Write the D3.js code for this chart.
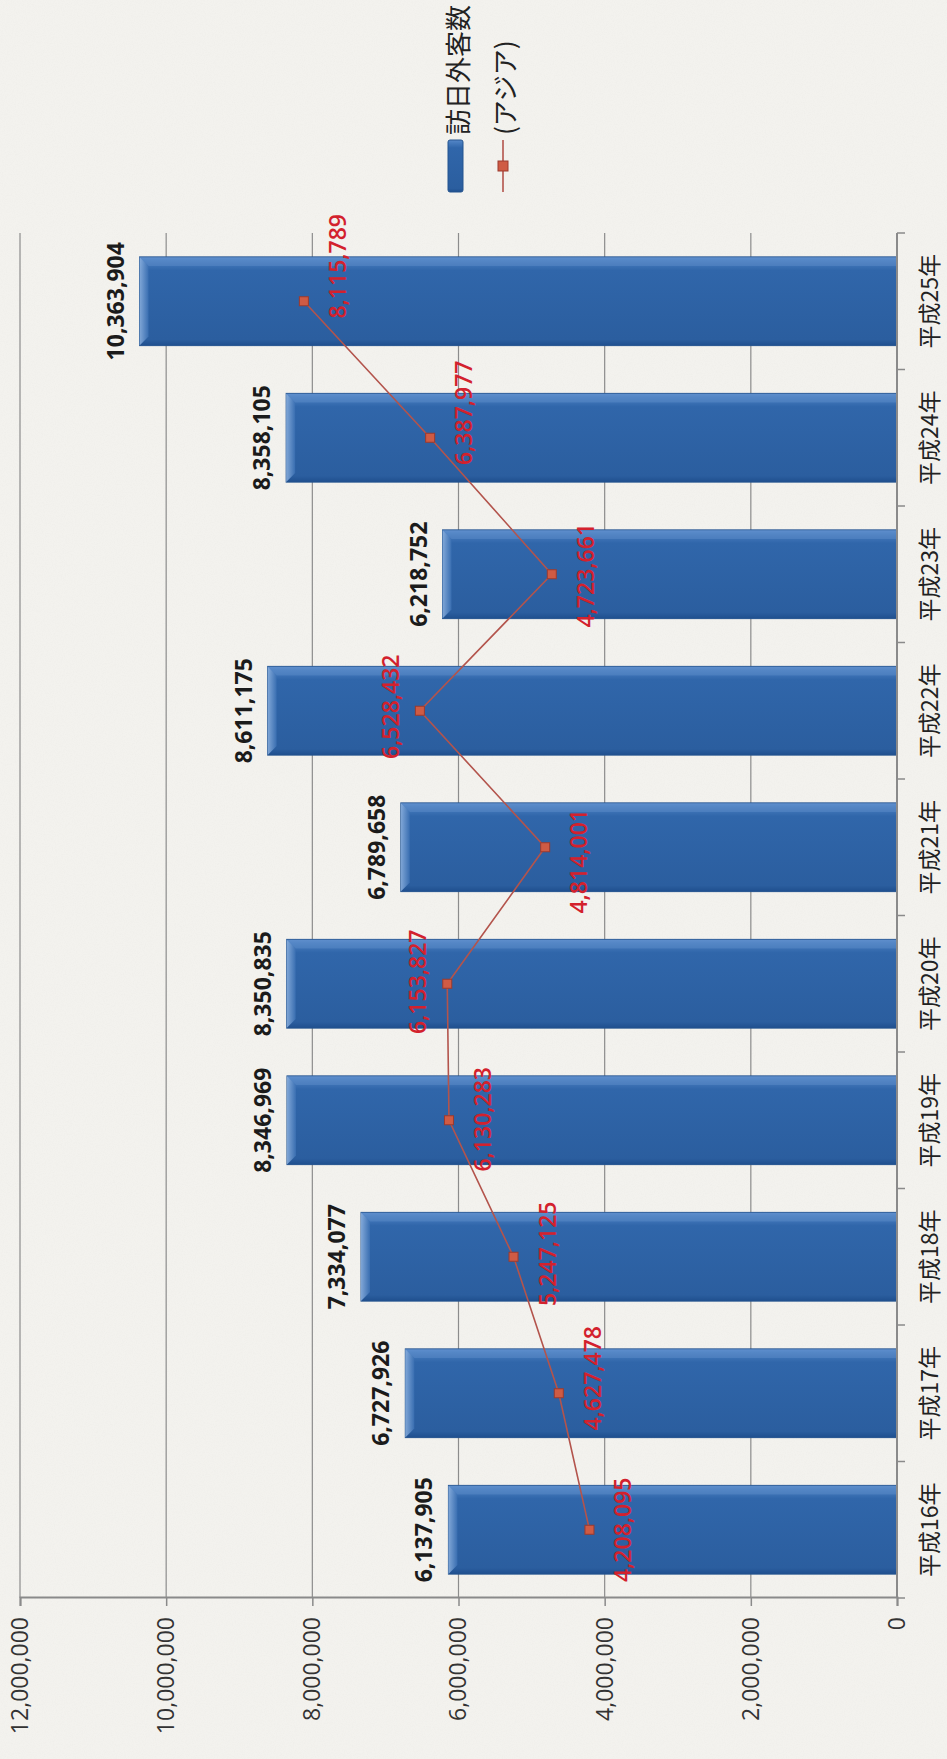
<!DOCTYPE html>
<html>
<head>
<meta charset="UTF-8" />
<title>訪日外客数</title>
<style>
  body { margin: 0; background: #f3f2ee; }
  svg { display: block; }
  .grid line { stroke: #8c8c8c; stroke-width: 1.2px; }
  .axis-line { stroke: #8a8a8a; stroke-width: 2px; }
  .tick-mark { stroke: #8a8a8a; stroke-width: 1.5px; }
  .val-label { font-family: "Open Sans", sans-serif; font-size: 23px; fill: #333; }
  .cat-label { font-family: "Noto Sans CJK JP", sans-serif; font-size: 23px; fill: #222; }
  .bar-label { font-family: "Open Sans", sans-serif; font-size: 23px; font-weight: bold; fill: #1b1b1b; }
  .asia-label { font-family: "Open Sans", sans-serif; font-size: 23px; font-weight: 600; fill: #d3212d; }
  .legend-text { font-family: "Noto Sans CJK JP", sans-serif; font-size: 26px; fill: #222; }
</style>
<script src="https://d3js.org/d3.v7.min.js"></script>
</head>
<body>
<div id="chart"></div>
<script>
// ---- data ----
var categories = ["平成16年", "平成17年", "平成18年", "平成19年", "平成20年",
                  "平成21年", "平成22年", "平成23年", "平成24年", "平成25年"];
var visitors = [6137905, 6727926, 7334077, 8346969, 8350835,
                6789658, 8611175, 6218752, 8358105, 10363904];
var asia = [4208095, 4627478, 5247125, 6130283, 6153827,
            4814001, 6528432, 4723661, 6387977, 8115789];
var valueTicks = [0, 2000000, 4000000, 6000000, 8000000, 10000000, 12000000];
var seriesNames = ["訪日外客数", "(アジア)"];

// where each red label sits relative to its point (label placement only)
var asiaLabelSide = ["below", "below", "below", "below", "above",
                     "below", "above", "below", "below", "below"];
var asiaLabelShift = [0, 15, 3, 1, 2, -14, 4, -1, 25, 35];

// ---- layout ----
// the chart is drawn landscape and then turned 90deg counter-clockwise
var pageW = 947, pageH = 1759;
var plotLeft = 161, plotRight = 1526, plotTop = 20, plotBottom = 897;

var svg = d3.select("#chart").append("svg")
    .attr("width", pageW)
    .attr("height", pageH);

var defs = svg.append("defs");

// paper texture
var paper = defs.append("filter").attr("id", "paper")
    .attr("x", 0).attr("y", 0).attr("width", "100%").attr("height", "100%");
paper.append("feTurbulence").attr("type", "fractalNoise")
    .attr("baseFrequency", 0.9).attr("numOctaves", 2).attr("seed", 4);
paper.append("feColorMatrix").attr("type", "matrix")
    .attr("values", "0 0 0 0 0.55  0 0 0 0 0.54  0 0 0 0 0.5  0 0 0 -1.2 0.75");

svg.append("rect").attr("width", pageW).attr("height", pageH).attr("fill", "#f3f2ee");
svg.append("rect").attr("width", pageW).attr("height", pageH)
    .attr("filter", "url(#paper)").attr("opacity", 0.1);

// bar gradients (x axis of gradient = across the bar thickness)
var body = defs.append("linearGradient").attr("id", "barBody")
    .attr("x1", 0).attr("y1", 0).attr("x2", 1).attr("y2", 0);
body.append("stop").attr("offset", "0%").attr("stop-color", "#1f4f8e");
body.append("stop").attr("offset", "7%").attr("stop-color", "#2b5e9f");
body.append("stop").attr("offset", "85%").attr("stop-color", "#3066aa");
body.append("stop").attr("offset", "96%").attr("stop-color", "#4a7ec0");
body.append("stop").attr("offset", "100%").attr("stop-color", "#5a8acb");

var cap = defs.append("linearGradient").attr("id", "barCap")
    .attr("x1", 0).attr("y1", 0).attr("x2", 0).attr("y2", 1);
cap.append("stop").attr("offset", "0%").attr("stop-color", "#8fb3e0");
cap.append("stop").attr("offset", "100%").attr("stop-color", "#3b70b3");

var g = svg.append("g")
    .attr("transform", "translate(0," + pageH + ") rotate(-90)");

var x = d3.scaleBand()
    .domain(categories)
    .range([plotLeft, plotRight])
    .paddingInner(0.35)
    .paddingOuter(0.175);

var y = d3.scaleLinear()
    .domain([0, 12000000])
    .range([plotBottom, plotTop]);

// gridlines
g.append("g").attr("class", "grid")
  .selectAll("line")
  .data(valueTicks.filter(function(d) { return d > 0; }))
  .enter().append("line")
    .attr("x1", plotLeft).attr("x2", plotRight)
    .attr("y1", function(d) { return y(d); })
    .attr("y2", function(d) { return y(d); });

// value axis
var yAxis = g.append("g")
    .attr("transform", "translate(" + plotLeft + ",0)")
    .call(d3.axisLeft(y).tickValues(valueTicks).tickSize(8).tickPadding(11)
      .tickFormat(d3.format(",")));
yAxis.select(".domain").attr("class", "axis-line").attr("fill", "none");
yAxis.selectAll(".tick line").attr("class", "tick-mark");
yAxis.selectAll(".tick text").attr("class", "val-label");

// bars
var bars = g.append("g").selectAll("g.bar")
  .data(visitors)
  .enter().append("g").attr("class", "bar");

bars.append("rect")
    .attr("x", function(d, i) { return x(categories[i]); })
    .attr("y", function(d) { return y(d); })
    .attr("width", x.bandwidth())
    .attr("height", function(d) { return plotBottom - y(d); })
    .attr("fill", "url(#barBody)")
    .attr("stroke", "#24548f")
    .attr("stroke-width", 1);

bars.append("path")
    .attr("d", function(d, i) {
      var x0 = x(categories[i]), x1 = x0 + x.bandwidth(), t = y(d), b = 9;
      return "M" + x0 + "," + t + "L" + x1 + "," + t + "L" + (x1 - b) + "," + (t + b) +
             "L" + (x0 + b) + "," + (t + b) + "Z";
    })
    .attr("fill", "url(#barCap)")
    .attr("opacity", 0.85);

bars.append("path")
    .attr("d", function(d, i) {
      var x1 = x(categories[i]) + x.bandwidth(), t = y(d), b = 9;
      return "M" + x1 + "," + t + "L" + (x1 - b) + "," + (t + b) + "L" + (x1 - b) + "," + plotBottom +
             "L" + x1 + "," + plotBottom + "Z";
    })
    .attr("fill", "#6b97d0").attr("opacity", 0.35);

// category axis
g.append("line").attr("class", "axis-line")
    .attr("x1", plotLeft).attr("x2", plotRight)
    .attr("y1", plotBottom).attr("y2", plotBottom);

g.append("g").selectAll("line")
  .data(d3.range(categories.length + 1))
  .enter().append("line").attr("class", "tick-mark")
    .attr("x1", function(i) { return x.range()[0] + i * x.step(); })
    .attr("x2", function(i) { return x.range()[0] + i * x.step(); })
    .attr("y1", plotBottom).attr("y2", plotBottom + 8);

g.append("g").selectAll("text")
  .data(categories)
  .enter().append("text").attr("class", "cat-label")
    .attr("x", function(d) { return x(d) + x.bandwidth() / 2; })
    .attr("y", plotBottom + 31)
    .attr("text-anchor", "middle")
    .attr("dominant-baseline", "central")
    .text(function(d) { return d; });

// bar value labels
g.append("g").selectAll("text")
  .data(visitors)
  .enter().append("text").attr("class", "bar-label")
    .attr("x", function(d, i) { return x(categories[i]) + x.bandwidth() / 2; })
    .attr("y", function(d) { return y(d) - 16; })
    .attr("text-anchor", "middle")
    .text(function(d) { return d3.format(",")(d); });

// asia line
var line = d3.line()
    .x(function(d, i) { return x(categories[i]) + x.bandwidth() / 2; })
    .y(function(d) { return y(d); });

g.append("path")
    .datum(asia)
    .attr("d", line)
    .attr("fill", "none")
    .attr("stroke", "#b3544c")
    .attr("stroke-width", 1.6);

g.append("g").selectAll("rect")
  .data(asia)
  .enter().append("rect")
    .attr("x", function(d, i) { return x(categories[i]) + x.bandwidth() / 2 - 4.5; })
    .attr("y", function(d) { return y(d) - 4.5; })
    .attr("width", 9).attr("height", 9)
    .attr("fill", "#cf5b44")
    .attr("stroke", "#9c3a2e")
    .attr("stroke-width", 1);

g.append("g").selectAll("text")
  .data(asia)
  .enter().append("text").attr("class", "asia-label")
    .attr("x", function(d, i) { return x(categories[i]) + x.bandwidth() / 2 + asiaLabelShift[i]; })
    .attr("y", function(d, i) { return y(d) + (asiaLabelSide[i] === "above" ? -30 : 33); })
    .attr("text-anchor", "middle")
    .attr("dominant-baseline", "central")
    .text(function(d) { return d3.format(",")(d); });

// legend
var legend = g.append("g");
legend.append("rect")
    .attr("x", 1567).attr("y", 448)
    .attr("width", 52).attr("height", 15)
    .attr("rx", 2)
    .attr("fill", "url(#barBody)")
    .attr("stroke", "#24548f");
legend.append("line")
    .attr("x1", 1567).attr("x2", 1619)
    .attr("y1", 503).attr("y2", 503)
    .attr("stroke", "#b3544c").attr("stroke-width", 1.6);
legend.append("rect")
    .attr("x", 1588).attr("y", 498)
    .attr("width", 10).attr("height", 10)
    .attr("fill", "#cf5b44").attr("stroke", "#9c3a2e");
legend.selectAll("text")
  .data(seriesNames)
  .enter().append("text").attr("class", "legend-text")
    .attr("x", 1624)
    .attr("y", function(d, i) { return i === 0 ? 456 : 503; })
    .attr("dominant-baseline", "central")
    .text(function(d) { return d; });
</script>
</body>
</html>
